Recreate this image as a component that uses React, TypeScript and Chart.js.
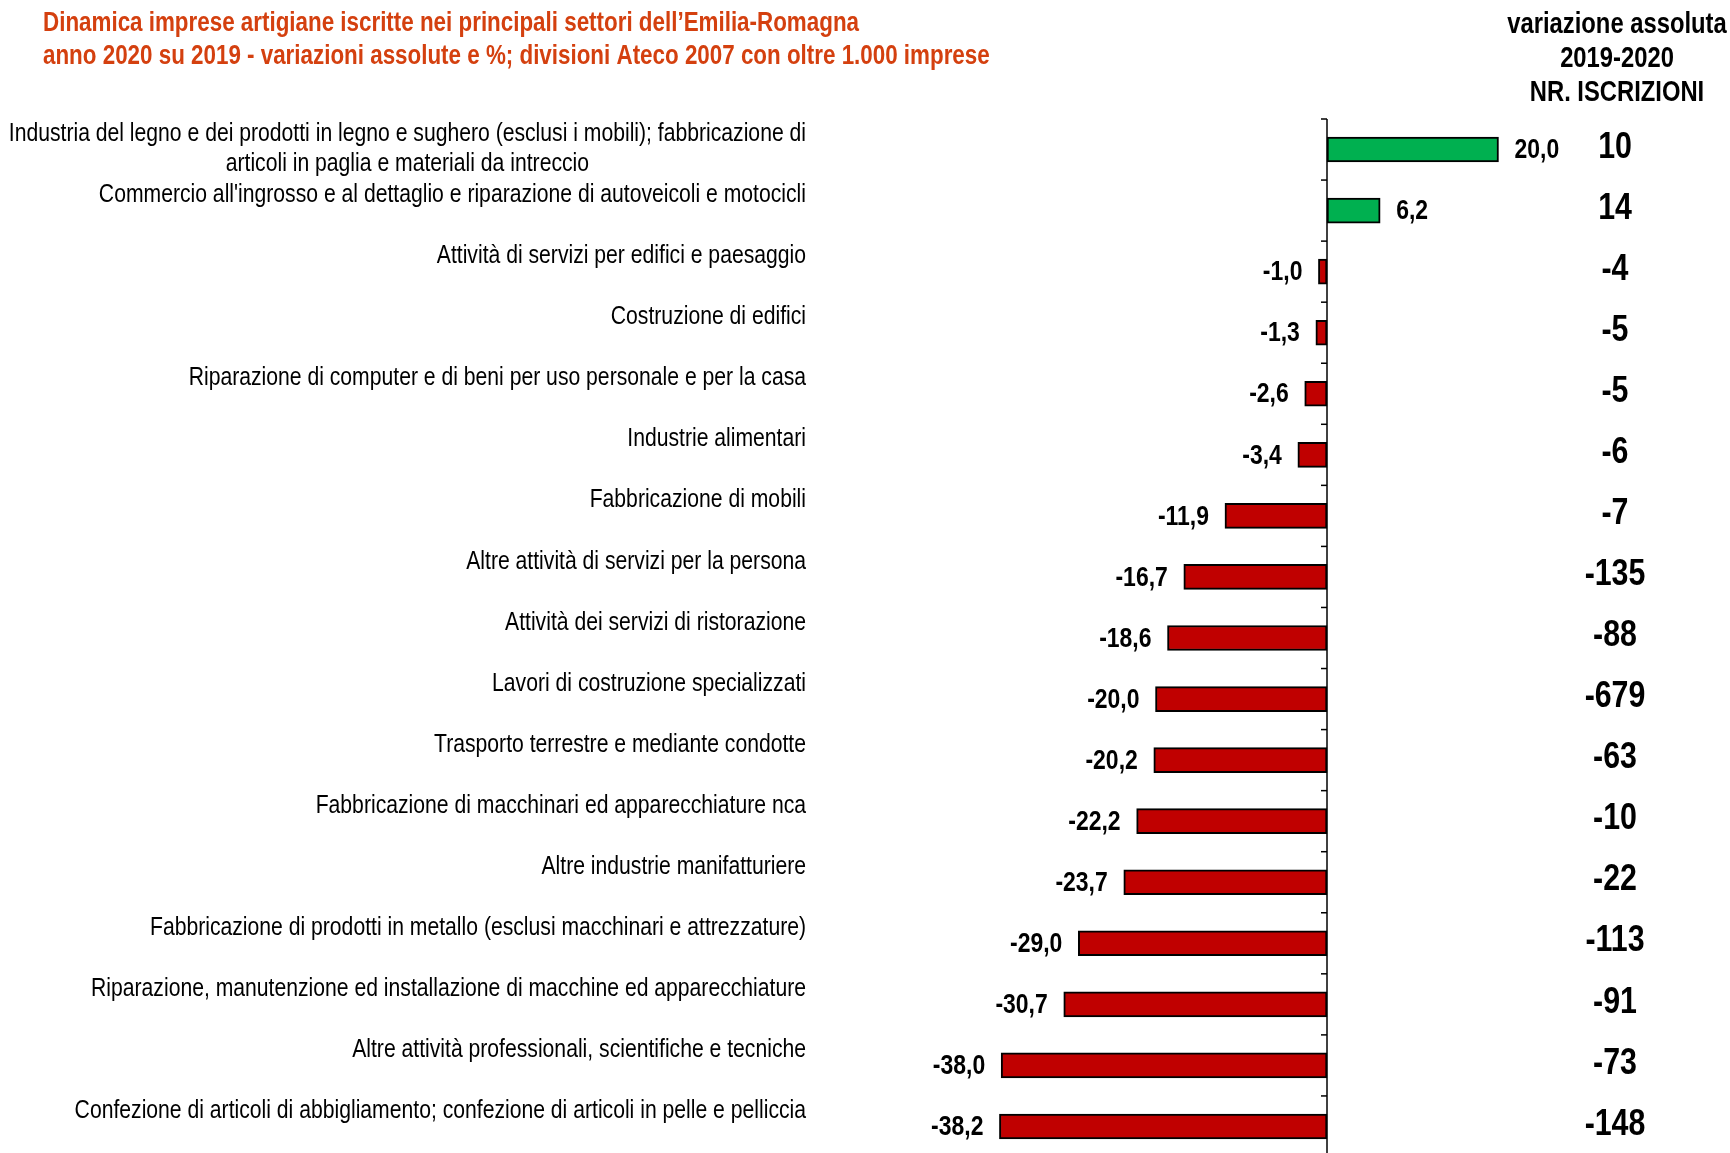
import { useEffect, useRef } from 'react';
import { Chart, registerables } from 'chart.js';

Chart.register(...registerables);

const titleLines = [
  'Dinamica imprese artigiane iscritte nei principali settori dell\u2019Emilia-Romagna',
  'anno 2020 su 2019 - variazioni assolute e %; divisioni Ateco 2007 con oltre 1.000 imprese',
];

const headerLines = ['variazione assoluta', '2019-2020', 'NR. ISCRIZIONI'];

const categories: (string | string[])[] = [
  [
    'Industria del legno e dei prodotti in legno e sughero (esclusi i mobili); fabbricazione di',
    'articoli in paglia e materiali da intreccio',
  ],
  "Commercio all'ingrosso e al dettaglio e riparazione di autoveicoli e motocicli",
  'Attività di servizi per edifici e paesaggio',
  'Costruzione di edifici',
  'Riparazione di computer e di beni per uso personale e per la casa',
  'Industrie alimentari',
  'Fabbricazione di mobili',
  'Altre attività di servizi per la persona',
  'Attività dei servizi di ristorazione',
  'Lavori di costruzione specializzati',
  'Trasporto terrestre e mediante condotte',
  'Fabbricazione di macchinari ed apparecchiature nca',
  'Altre industrie manifatturiere',
  'Fabbricazione di prodotti in metallo (esclusi macchinari e attrezzature)',
  'Riparazione, manutenzione ed installazione di macchine ed apparecchiature',
  'Altre attività professionali, scientifiche e tecniche',
  'Confezione di articoli di abbigliamento; confezione di articoli in pelle e pelliccia',
];

const variazionePercentuale = [
  20.0, 6.2, -1.0, -1.3, -2.6, -3.4, -11.9, -16.7, -18.6, -20.0, -20.2, -22.2, -23.7, -29.0, -30.7, -38.0, -38.2,
];

const variazioneAssoluta = [10, 14, -4, -5, -5, -6, -7, -135, -88, -679, -63, -10, -22, -113, -91, -73, -148];

const FONT = '"Liberation Sans", Arial, sans-serif';
const NARROW = 0.82;
const GREEN = '#00B050';
const RED = '#C00000';
const TITLE_COLOR = '#D4400F';

const fmt = (v: number) => v.toFixed(1).replace('.', ',');

function narrowText(
  ctx: CanvasRenderingContext2D,
  text: string,
  x: number,
  y: number,
  align: CanvasTextAlign,
  font: string,
) {
  ctx.save();
  ctx.font = font;
  ctx.textAlign = align;
  ctx.textBaseline = 'middle';
  ctx.translate(x, y);
  ctx.scale(NARROW, 1);
  ctx.fillText(text, 0, 0);
  ctx.restore();
}

function narrowWidth(ctx: CanvasRenderingContext2D, text: string, font: string) {
  ctx.save();
  ctx.font = font;
  const w = ctx.measureText(text).width * NARROW;
  ctx.restore();
  return w;
}

const overlayPlugin = {
  id: 'overlay',
  afterDatasetsDraw(chart: any) {
    const { ctx, chartArea } = chart;
    const xs = chart.scales.x;
    const ys = chart.scales.y;
    const x0 = xs.getPixelForValue(0);
    const n = categories.length;
    const band = (chartArea.bottom - chartArea.top) / n;

    ctx.save();
    ctx.strokeStyle = '#000';
    ctx.lineWidth = 1.5;
    ctx.beginPath();
    ctx.moveTo(x0, chartArea.top);
    ctx.lineTo(x0, chartArea.bottom + 5);
    ctx.stroke();
    for (let i = 0; i <= n; i++) {
      const y = chartArea.top + i * band;
      ctx.beginPath();
      ctx.moveTo(x0 - 6, y);
      ctx.lineTo(x0, y);
      ctx.stroke();
    }

    ctx.fillStyle = '#000';
    const valFont = `bold 28px ${FONT}`;
    variazionePercentuale.forEach((v, i) => {
      const yc = ys.getPixelForValue(i) + 1;
      const xe = xs.getPixelForValue(v);
      if (v >= 0) narrowText(ctx, fmt(v), xe + 16, yc, 'left', valFont);
      else narrowText(ctx, fmt(v), xe - 16, yc, 'right', valFont);
    });

    const absFont = `bold 37px ${FONT}`;
    variazioneAssoluta.forEach((v, i) => {
      const yc = ys.getPixelForValue(i) - 2;
      narrowText(ctx, String(v), 1615, yc, 'center', absFont);
    });

    const catFont = `25.8px ${FONT}`;
    categories.forEach((c, i) => {
      const lines = Array.isArray(c) ? c : [c];
      const yTop = ys.getPixelForValue(i) - 15.5;
      const maxW = Math.max(...lines.map((l) => narrowWidth(ctx, l, catFont)));
      const cx = 806 - maxW / 2;
      lines.forEach((l, k) => narrowText(ctx, l, cx, yTop + k * 30, 'center', catFont));
    });

    ctx.fillStyle = TITLE_COLOR;
    const titleFont = `bold 27.3px ${FONT}`;
    titleLines.forEach((t, k) => narrowText(ctx, t, 43, 23 + k * 33, 'left', titleFont));

    ctx.fillStyle = '#000';
    const headFont = `bold 29px ${FONT}`;
    headerLines.forEach((t, k) => narrowText(ctx, t, 1617, 25 + k * 34, 'center', headFont));

    ctx.restore();
  },
};

export default function App() {
  const ref = useRef<HTMLCanvasElement | null>(null);

  useEffect(() => {
    if (!ref.current) return;
    const chart = new Chart(ref.current, {
      type: 'bar',
      data: {
        labels: categories.map((c) => (Array.isArray(c) ? c.join(' ') : c)),
        datasets: [
          {
            data: variazionePercentuale,
            backgroundColor: variazionePercentuale.map((v) => (v >= 0 ? GREEN : RED)),
            borderColor: '#000',
            borderWidth: 2,
            borderSkipped: false,
            barThickness: 25,
          },
        ],
      },
      options: {
        indexAxis: 'y',
        responsive: false,
        animation: false,
        layout: { padding: { left: 984, right: 60, top: 119, bottom: 3 } },
        plugins: {
          legend: { display: false },
          tooltip: { enabled: false },
          title: { display: false },
        },
        scales: {
          x: { display: false, min: -40, max: 40 },
          y: { display: false },
        },
      },
      plugins: [overlayPlugin],
    });
    return () => chart.destroy();
  }, []);

  return (
    <div
      style={{
        position: 'absolute',
        left: 0,
        top: 0,
        width: 1730,
        height: 1153,
        overflow: 'hidden',
        background: '#fff',
      }}
    >
      <canvas ref={ref} width={1730} height={1160} style={{ display: 'block' }} />
    </div>
  );
}
